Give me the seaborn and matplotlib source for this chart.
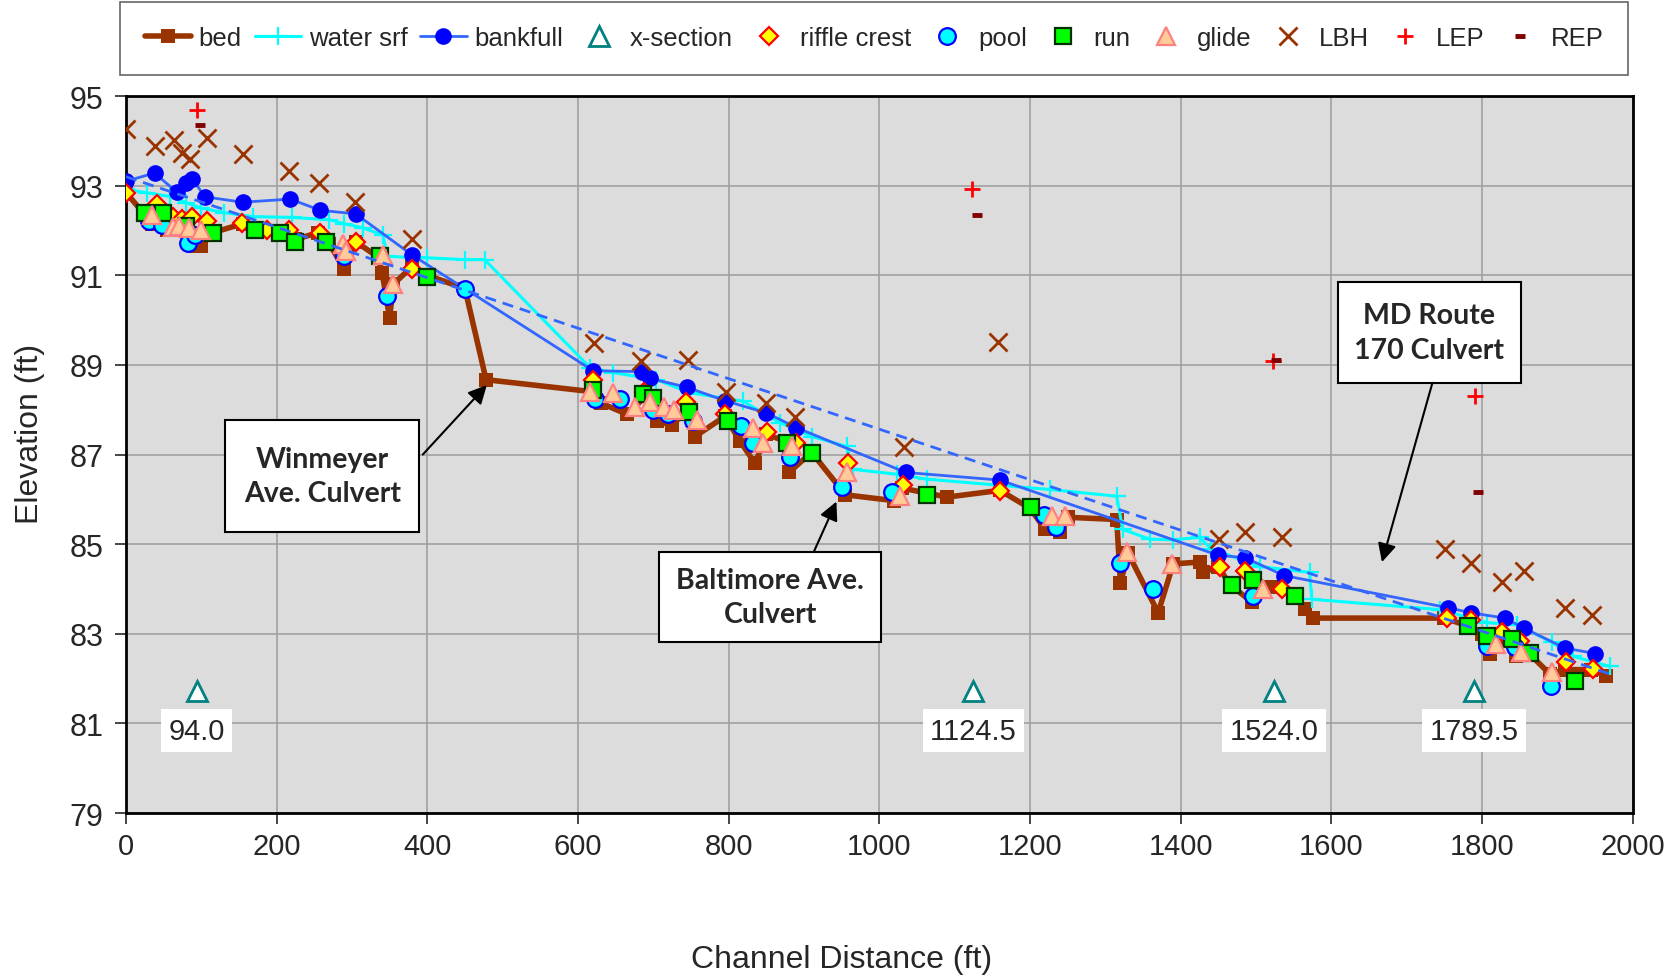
import matplotlib
matplotlib.use('Agg')
import matplotlib.pyplot as plt
from matplotlib.patches import Rectangle
import seaborn as sns

# longitudinal profile survey: channel distance (ft) and elevation (ft)
bed_x = [0, 35, 55, 75, 90, 100, 115, 155, 175, 210, 225, 255, 270, 290, 305, 335, 340, 350, 355, 380,
         400, 450, 478, 620, 630, 665, 690, 705, 725, 745, 755, 795, 815, 835, 850, 875, 880, 910, 955, 1020,
         1030, 1090, 1160, 1200, 1220, 1240, 1250, 1315, 1320, 1330, 1370, 1390, 1425, 1430, 1450, 1465, 1495,
         1500, 1520, 1550, 1565, 1575, 1750, 1780, 1800, 1810, 1835, 1845, 1860, 1890, 1910, 1945, 1965]
bed_y = [92.85, 92.15, 92.0, 92.0, 91.65, 91.65, 91.95, 92.15, 92.0, 91.95, 91.8, 91.95, 91.7, 91.13, 91.75,
         91.4, 91.06, 90.05, 90.8, 91.2, 91.0, 90.7, 88.67, 88.4, 88.15, 87.9, 88.3, 87.75, 87.65, 88.0,
         87.4, 87.85, 87.3, 86.8, 87.45, 87.3, 86.6, 87.05, 86.1, 85.97, 86.25, 86.05, 86.2, 85.8, 85.33,
         85.28, 85.6, 85.55, 84.13, 84.8, 83.47, 84.56, 84.6, 84.37, 84.5, 84.1, 83.7, 84.06, 84.05, 83.85,
         83.55, 83.35, 83.35, 83.18, 83.0, 82.55, 82.9, 82.5, 82.6, 82.1, 82.2, 82.2, 82.05]

wat_x = [0, 28, 58, 80, 100, 130, 168, 221, 270, 290, 314, 341, 347, 399, 450, 476, 616, 646, 704, 748,
         819, 868, 911, 957, 965, 1023, 1063, 1226, 1315, 1323, 1359, 1390, 1425, 1440, 1505, 1571, 1574,
         1744, 1806, 1846, 1893, 1920, 1970]
wat_y = [92.92, 92.84, 92.76, 92.62, 92.5, 92.4, 92.31, 92.29, 92.24, 92.15, 92.06, 91.9, 91.42, 91.39,
         91.35, 91.35, 88.94, 88.83, 88.67, 88.38, 88.19, 87.71, 87.4, 87.18, 86.67, 86.56, 86.45, 86.22,
         86.07, 85.33, 85.11, 85.1, 85.15, 84.9, 84.5, 84.37, 83.77, 83.54, 83.25, 83.2, 82.81, 82.5, 82.27]

bkf_x = [0, 38, 68, 80, 88, 105, 155, 218, 258, 305, 380, 450, 620, 685, 695, 745, 795, 850, 890, 1035,
         1160, 1450, 1485, 1537, 1755, 1785, 1830, 1855, 1910, 1950]
bkf_y = [93.1, 93.28, 92.85, 93.05, 93.15, 92.75, 92.63, 92.7, 92.45, 92.37, 91.45, 90.7, 88.87, 88.85,
         88.7, 88.5, 88.2, 87.93, 87.6, 86.6, 86.43, 84.75, 84.7, 84.3, 83.58, 83.47, 83.35, 83.13, 82.68, 82.56]

xs_x = [94.0, 1124.5, 1524.0, 1789.5]
xs_y = [81.72, 81.72, 81.72, 81.72]

rif_x = [0, 41, 63, 75, 88, 108, 154, 187, 217, 257, 305, 380, 620, 688, 744, 795, 851, 890, 958, 1031,
         1160, 1452, 1485, 1535, 1753, 1785, 1827, 1850, 1911, 1947]
rif_y = [92.83, 92.6, 92.3, 92.25, 92.3, 92.2, 92.17, 92.0, 92.02, 91.95, 91.75, 91.15, 88.67, 88.4, 88.17,
         87.9, 87.5, 87.26, 86.82, 86.33, 86.18, 84.49, 84.39, 83.99, 83.35, 83.3, 83.03, 82.85, 82.37, 82.21]

pool_x = [31, 48, 82, 92, 289, 347, 450, 622, 656, 699, 719, 752, 817, 832, 881, 950, 1017, 1219, 1235,
          1319, 1363, 1496, 1806, 1843, 1892]
pool_y = [92.2, 92.13, 91.73, 91.9, 91.42, 90.53, 90.7, 88.23, 88.23, 88.0, 87.9, 87.74, 87.63, 87.26,
          86.95, 86.27, 86.16, 85.66, 85.38, 84.57, 84.0, 83.84, 82.72, 82.7, 81.83]

run_x = [25, 49, 80, 115, 171, 204, 224, 266, 337, 399, 620, 686, 700, 747, 799, 877, 911, 1063, 1201,
         1468, 1496, 1551, 1781, 1806, 1840, 1863, 1923]
run_y = [92.4, 92.4, 92.1, 91.95, 92.0, 91.95, 91.75, 91.75, 91.42, 90.97, 88.45, 88.34, 88.27, 87.94,
         87.74, 87.26, 87.04, 86.09, 85.82, 84.08, 84.19, 83.84, 83.17, 82.94, 82.89, 82.58, 81.94]

gl_x = [35, 62, 70, 84, 100, 288, 292, 341, 354, 616, 646, 675, 695, 714, 728, 758, 832, 845, 884, 957,
        1027, 1229, 1247, 1329, 1388, 1509, 1818, 1852, 1893]
gl_y = [92.35, 92.08, 92.1, 92.06, 92.02, 91.69, 91.55, 91.46, 90.8, 88.4, 88.38, 88.07, 88.17, 88.07,
        88.0, 87.78, 87.6, 87.26, 87.18, 86.6, 86.07, 85.62, 85.62, 84.82, 84.55, 83.99, 82.77, 82.6, 82.14]

lbh_x = [0, 38, 64, 75, 85, 107, 155, 217, 256, 304, 380, 621, 684, 746, 796, 850, 888, 1033, 1158,
         1451, 1485, 1535, 1751, 1785, 1827, 1855, 1910, 1946]
lbh_y = [94.26, 93.88, 94.02, 93.73, 93.6, 94.07, 93.71, 93.33, 93.07, 92.64, 91.82, 89.48, 89.08, 89.1,
         88.4, 88.15, 87.84, 87.17, 89.5, 85.11, 85.28, 85.16, 84.9, 84.59, 84.16, 84.4, 83.58, 83.42]

lep_x = [94, 1123, 1522, 1790]
lep_y = [94.69, 92.92, 89.08, 88.31]
rep_x = [98, 1129, 1527, 1794]
rep_y = [94.36, 92.35, 89.1, 86.16]

# valley trend line
trend_x = [0, 1970]
trend_y = [93.2, 82.1]

sns.set_style('white')
plt.rcParams['font.family'] = ['Liberation Sans', 'DejaVu Sans']

fig = plt.figure(figsize=(16.79, 9.79), dpi=100)
ax = fig.add_axes([0.075, 0.1685, 0.8975, 0.7324])
ax.set_facecolor('#DCDCDC')

common = dict(ax=ax, sort=False, estimator=None)

sns.lineplot(x=bed_x, y=bed_y, color='#993300', lw=4, marker='s', markersize=9.5,
             markeredgecolor='#993300', markeredgewidth=0, label='bed', zorder=3, **common)
sns.lineplot(x=wat_x, y=wat_y, color='#00FFFF', lw=2.2, marker='+', markersize=13,
             markeredgecolor='#00FFFF', markeredgewidth=1.6, label='water srf', zorder=3, **common)
sns.lineplot(x=bkf_x, y=bkf_y, color='#3366FF', lw=2, marker='o', markersize=12, markerfacecolor='#0000FF',
             markeredgecolor='#0000FF', markeredgewidth=0, label='bankfull', zorder=3, **common)
sns.lineplot(x=xs_x, y=xs_y, linestyle='', marker='^', markersize=15, markerfacecolor='white',
             markeredgecolor='#008080', markeredgewidth=2, label='x-section', zorder=4, **common)
sns.lineplot(x=rif_x, y=rif_y, linestyle='', marker='D', markersize=9, markerfacecolor='#FFFF00',
             markeredgecolor='#FF0000', markeredgewidth=1.6, label='riffle crest', zorder=4, **common)
sns.lineplot(x=pool_x, y=pool_y, linestyle='', marker='o', markersize=12, markerfacecolor='#00FFFF',
             markeredgecolor='#0000FF', markeredgewidth=1.6, label='pool', zorder=4, **common)
sns.lineplot(x=run_x, y=run_y, linestyle='', marker='s', markersize=11, markerfacecolor='#00FF00',
             markeredgecolor='#003300', markeredgewidth=1.6, label='run', zorder=4, **common)
sns.lineplot(x=gl_x, y=gl_y, linestyle='', marker='^', markersize=13, markerfacecolor='#FFCC99',
             markeredgecolor='#FF8080', markeredgewidth=1.6, label='glide', zorder=4, **common)
sns.lineplot(x=lbh_x, y=lbh_y, linestyle='', marker='x', markersize=13, color='#993300',
             markeredgecolor='#993300', markeredgewidth=2, label='LBH', zorder=4, **common)
sns.lineplot(x=lep_x, y=lep_y, linestyle='', marker='+', markersize=12, color='#FF0000',
             markeredgecolor='#FF0000', markeredgewidth=2, label='LEP', zorder=4, **common)
sns.lineplot(x=rep_x, y=rep_y, linestyle='', marker='_', markersize=7, color='#800000',
             markeredgecolor='#800000', markeredgewidth=3.5, label='REP', zorder=4, **common)
sns.lineplot(x=trend_x, y=trend_y, color='#3366FF', lw=2, linestyle=(0, (4, 2.5)),
             label='_trend', zorder=5, **common)

# cross-section stations
for x, y in zip(xs_x, xs_y):
    ax.text(x, y - 0.88, f'{x:.1f}', ha='center', va='center', fontsize=21, zorder=6,
            bbox=dict(facecolor='white', edgecolor='none', boxstyle='square,pad=0.25'))

# culvert call-outs
boxes = [
    ('Winmeyer\nAve. Culvert', (132, 85.28), 257, 2.48, (394, 87.0), (479, 88.55)),
    ('Baltimore Ave.\nCulvert', (708, 82.82), 294, 2.01, (913, 84.83), (943, 85.95)),
    ('MD Route\n170 Culvert', (1609, 88.6), 242, 2.24, (1734, 88.6), (1667, 84.6)),
]
for txt, (bx, by), bw, bh, tail, head in boxes:
    ax.add_patch(Rectangle((bx, by), bw, bh, facecolor='white', edgecolor='black', lw=1.5, zorder=7))
    ax.text(bx + bw / 2, by + bh / 2, txt, ha='center', va='center', fontsize=20.5, fontweight='bold',
            family=['Lato', 'DejaVu Sans'], linespacing=1.4, zorder=8)
    ax.annotate('', xy=head, xytext=tail, zorder=8,
                arrowprops=dict(arrowstyle='-|>', color='black', lw=1.5, mutation_scale=28,
                                shrinkA=0, shrinkB=0))

ax.set_xlim(0, 2000)
ax.set_ylim(79, 95)
ax.set_xticks(range(0, 2001, 200))
ax.set_yticks(range(79, 96, 2))
ax.grid(True, color='#A0A0A0', lw=1.2)
ax.set_axisbelow(True)
for sp in ax.spines.values():
    sp.set_color('black')
    sp.set_linewidth(2)
ax.tick_params(axis='both', direction='out', length=8, width=1.2, labelsize=21, pad=6,
               bottom=True, left=True)
ax.tick_params(axis='y', labelsize=22, pad=8)

ax.set_xlabel('Channel Distance (ft)', fontsize=23)
ax.set_ylabel('Elevation (ft)', fontsize=23)
ax.xaxis.set_label_coords(0.475, -0.182)
ax.yaxis.set_label_coords(-0.054, 0.53)

handles, labels = ax.get_legend_handles_labels()
leg = ax.legend(handles, labels, loc='upper center', bbox_to_anchor=(0.5208, 0.997),
                bbox_transform=fig.transFigure, ncol=11, fontsize=18.5, frameon=True, fancybox=False,
                edgecolor='#404040', borderpad=0.95, handlelength=1.8, handletextpad=0.3,
                columnspacing=0.5, borderaxespad=0)
leg.get_frame().set_linewidth(1.2)

fig.savefig('out.png', dpi=100)
